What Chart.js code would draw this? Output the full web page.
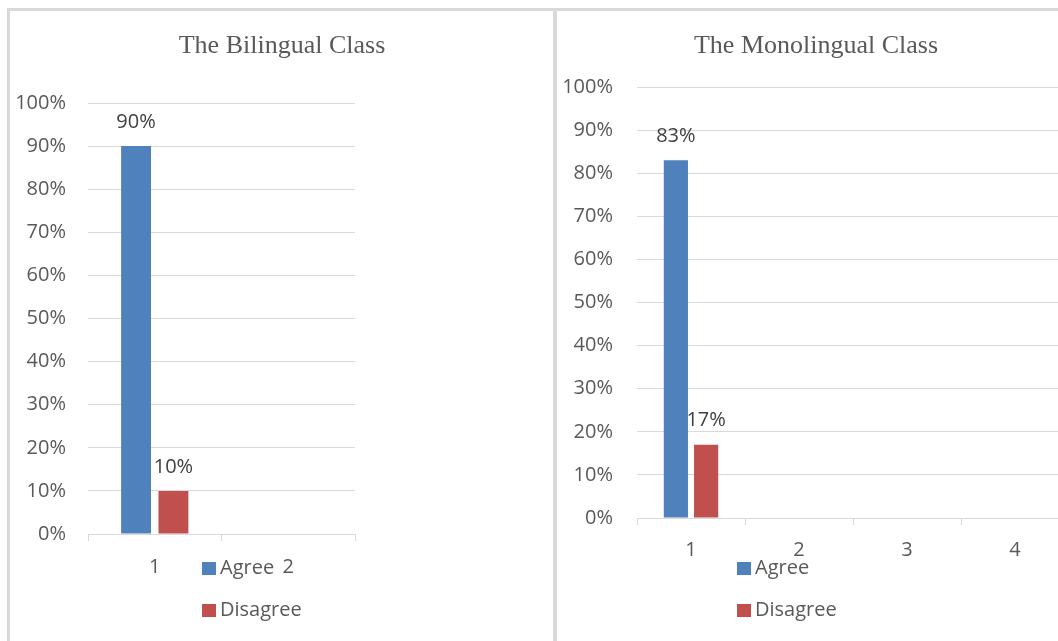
<!DOCTYPE html>
<html>
<head>
<meta charset="utf-8">
<script src="https://cdn.jsdelivr.net/npm/chart.js@4.4.0/dist/chart.umd.min.js"></script>
<style>
  html, body { margin: 0; padding: 0; background: #fff; }
  body { width: 1058px; height: 641px; overflow: hidden; position: relative; font-family: "Open Sans", sans-serif; }
  .rule { position: absolute; background: #d9d9d9; }
  .box { position: absolute; }
  .title { position: absolute; font-family: "Liberation Serif", serif; font-size: 26px; color: #595959; white-space: nowrap; transform: translate(-50%, -50%); }
  .item { position: absolute; font-size: 20px; color: #595959; white-space: nowrap; line-height: 24px; transform: translateY(-50%); }
  .item i { display: inline-block; width: 14px; height: 13px; margin-right: 4px; vertical-align: -1px; }
</style>
</head>
<body>
<div class="rule" style="left:7px; top:8px; width:1051px; height:3px;"></div>
<div class="rule" style="left:7px; top:8px; width:3px; height:633px;"></div>
<div class="rule" style="left:553px; top:8px; width:4px; height:633px;"></div>

<div class="box" style="left:10px; top:11px; width:543px; height:630px;"><canvas id="bilingual"></canvas></div>
<div class="box" style="left:557px; top:11px; width:521px; height:630px;"><canvas id="monolingual"></canvas></div>

<div class="title" style="left:282px; top:45px;">The Bilingual Class</div>
<div class="title" style="left:816px; top:45px;">The Monolingual Class</div>

<div id="legendBilingual"></div>
<div id="legendMonolingual"></div>

<script>
// data
const seriesNames = ['Agree', 'Disagree'];
const seriesColors = ['#4f81bd', '#c0504d'];

const bilingualCategories = ['1', '2'];
const bilingualAgree = [90, null];
const bilingualDisagree = [10, null];

const monolingualCategories = ['1', '2', '3', '4'];
const monolingualAgree = [83, null, null, null];
const monolingualDisagree = [17, null, null, null];

const yMax = 100;
const yStep = 10;

const textGray = '#595959';
const lineGray = '#d9d9d9';

// value labels above the bars
const valueLabels = {
  id: 'valueLabels',
  afterDatasetsDraw(chart) {
    const ctx = chart.ctx;
    ctx.save();
    ctx.font = '20px "Open Sans"';
    ctx.fillStyle = '#404040';
    ctx.textAlign = 'center';
    ctx.textBaseline = 'middle';
    chart.data.datasets.forEach((ds, i) => {
      chart.getDatasetMeta(i).data.forEach((bar, j) => {
        const v = ds.data[j];
        if (v == null) return;
        ctx.fillText(v + '%', bar.x, bar.y - 24);
      });
    });
    ctx.restore();
  }
};

function makeChart(canvasId, labels, agree, disagree, lay) {
  const ctx = document.getElementById(canvasId);
  return new Chart(ctx, {
    type: 'bar',
    data: {
      labels: labels,
      datasets: [
        { label: seriesNames[0], data: agree, backgroundColor: seriesColors[0], categoryPercentage: 0.56, barPercentage: 0.8 },
        { label: seriesNames[1], data: disagree, backgroundColor: seriesColors[1], categoryPercentage: 0.56, barPercentage: 0.8 }
      ]
    },
    options: {
      responsive: true,
      maintainAspectRatio: false,
      animation: false,
      layout: { padding: { left: 0, top: lay.padT, right: lay.padR, bottom: lay.padB } },
      plugins: {
        legend: { display: false },
        title: { display: false },
        tooltip: { enabled: false }
      },
      scales: {
        y: {
          min: 0,
          max: yMax,
          afterFit: (scale) => { scale.width = lay.yW; },
          ticks: {
            stepSize: yStep,
            padding: lay.yPad,
            color: textGray,
            font: { family: 'Open Sans', size: 20 },
            callback: (v) => v + '%'
          },
          grid: { color: lineGray, drawTicks: false },
          border: { display: false }
        },
        x: {
          afterFit: (scale) => { scale.height = 40; },
          ticks: {
            padding: lay.xPad,
            color: textGray,
            font: { family: 'Open Sans', size: 20 }
          },
          grid: { drawOnChartArea: false, drawTicks: true, tickLength: 7, color: lineGray, offset: true },
          border: { color: lineGray, width: 1 }
        }
      }
    },
    plugins: [valueLabels]
  });
}

function makeLegend(id, left, tops) {
  const el = document.getElementById(id);
  seriesNames.forEach((name, i) => {
    const d = document.createElement('div');
    d.className = 'item';
    d.style.left = left + 'px';
    d.style.top = tops[i] + 'px';
    d.innerHTML = '<i style="background:' + seriesColors[i] + '"></i>' + name;
    el.appendChild(d);
  });
}

makeChart('bilingual', bilingualCategories, bilingualAgree, bilingualDisagree,
  { padT: 92, padR: 198, padB: 67, yW: 78, yPad: 22, xPad: 14 });
makeChart('monolingual', monolingualCategories, monolingualAgree, monolingualDisagree,
  { padT: 76, padR: 9, padB: 83, yW: 80, yPad: 24, xPad: 13 });

makeLegend('legendBilingual', 202, [567, 609]);
makeLegend('legendMonolingual', 737, [567, 609]);
</script>
</body>
</html>
